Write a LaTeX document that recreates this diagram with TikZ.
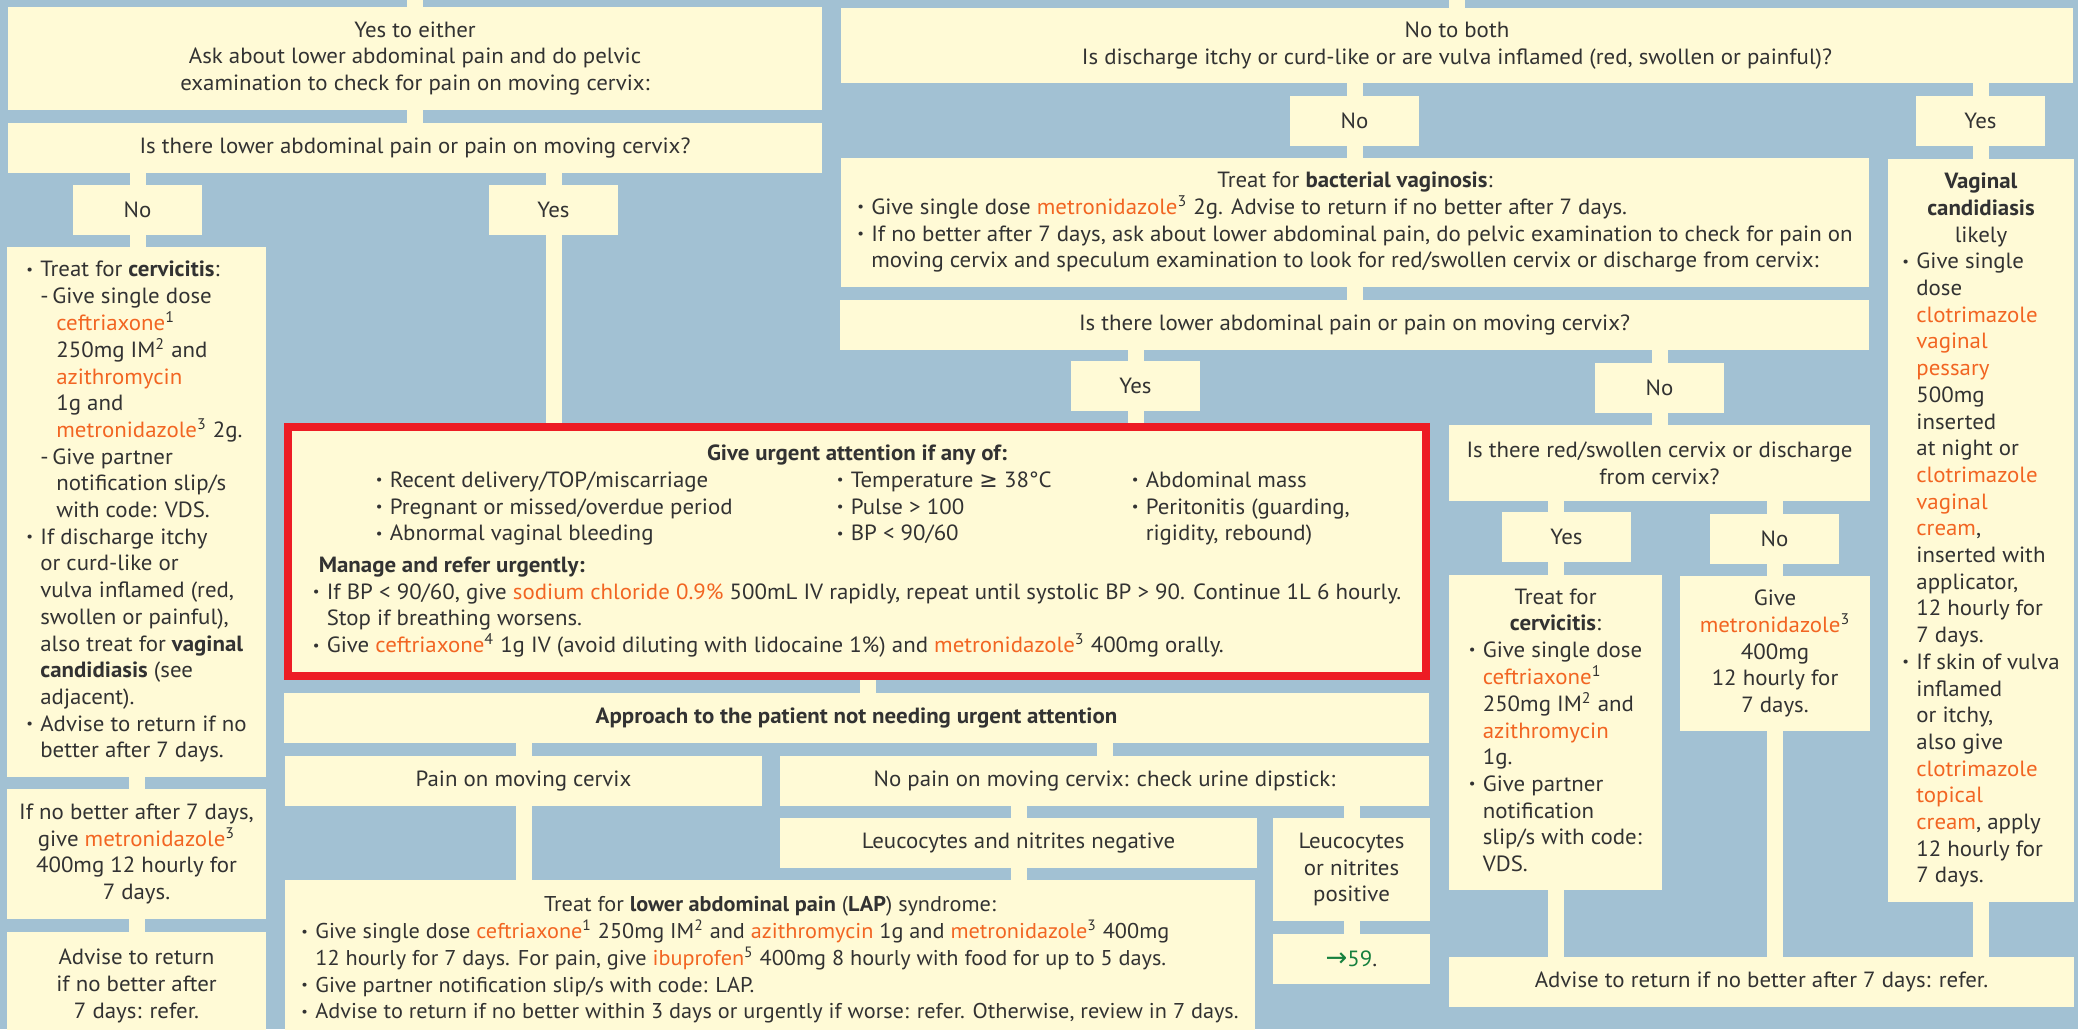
\documentclass[tikz,border=0pt]{standalone}
\usepackage{fontspec}
\usepackage{graphicx}
\setmainfont{PT Sans}[FakeStretch=1.04]
\newfontfamily\dvfont{DejaVu Sans}
\definecolor{bgblue}{RGB}{162,193,211}
\definecolor{cream}{RGB}{255,250,214}
\definecolor{ink}{RGB}{50,50,50}
\definecolor{drug}{RGB}{242,101,34}
\definecolor{alert}{RGB}{237,28,36}
\definecolor{grn}{RGB}{22,128,62}
\newcommand\orn[1]{\textcolor{drug}{#1}}
\newcommand\bul{\makebox[7pt][l]{\raisebox{0.12em}{\scalebox{0.65}{\textbullet}}}}
\newcommand\hind{\hspace*{7pt}}
\newcommand\hindd{\hspace*{15pt}}
\newcommand\su[1]{\textsuperscript{#1}}
\newcommand\fs{\fontsize{11pt}{13.35pt}\selectfont}
\newcommand\fss{\fontsize{10.7pt}{13.35pt}\selectfont}
\newcommand\mc[1]{\multicolumn{1}{@{}c@{}}{#1}}
\newcommand\bxnode[7][]{\node[bx,minimum width={(#4-#2)*0.5pt},minimum height={(#5-#3)*0.5pt},#1] (#6) at ({(#2+#4)/2},{(#3+#5)/2}) {#7};}
\begin{document}
\begin{tikzpicture}[x=0.5pt,y=-0.5pt,
  bx/.style={fill=cream,inner sep=0pt,outer sep=0pt,text=ink,font=\fs},
  stub/.style={draw=cream,line width=8pt},
  ctr/.style={align=center}]
\useasboundingbox (0,0) rectangle (2078,1029);
\fill[bgblue] (0,0) rectangle (2078,1029);

% left branch
\bxnode[ctr]{8}{7}{822}{110}{A}{Yes to either\\Ask about lower abdominal pain and do pelvic\\examination to check for pain on moving cervix:}
\bxnode[ctr]{8}{123}{822}{173}{B}{Is there lower abdominal pain or pain on moving cervix?}
\bxnode[ctr]{73}{185}{202}{235}{NoL}{No}
\bxnode[ctr]{489}{185}{618}{235}{YesL}{Yes}
\bxnode{7}{247}{266}{777}{J}{\begin{tabular}{@{}l@{}}
\bul Treat for \textbf{cervicitis}:\\
\hind\makebox[6pt][l]{-}Give single dose\\
\hindd\orn{ceftriaxone}\su{1}\\
\hindd 250mg IM\su{2} and\\
\hindd\orn{azithromycin}\\
\hindd 1g and\\
\hindd\orn{metronidazole}\su{3} 2g.\\
\hind\makebox[6pt][l]{-}Give partner\\
\hindd notification slip/s\\
\hindd with code: VDS.\\
\bul If discharge itchy\\
\hind or curd-like or\\
\hind vulva inflamed (red,\\
\hind swollen or painful),\\
\hind also treat for \textbf{vaginal}\\
\hind\textbf{candidiasis} (see\\
\hind adjacent).\\
\bul Advise to return if no\\
\hind better after 7 days.
\end{tabular}}
\bxnode[ctr]{7}{789}{266}{919}{K}{If no better after 7 days,\\give \orn{metronidazole}\su{3}\\400mg 12 hourly for\\7 days.}
\bxnode[ctr]{7}{932}{266}{1040}{L}{Advise to return\\if no better after\\7 days: refer.}

% right branch
\bxnode[ctr]{841}{8}{2073}{83}{C}{No to both\\Is discharge itchy or curd-like or are vulva inflamed (red, swollen or painful)?}
\bxnode[ctr]{1290}{96}{1419}{146}{NoR}{No}
\bxnode[ctr]{1916}{96}{2045}{146}{YesR}{Yes}
\bxnode{841}{158}{1869}{287}{D}{\begin{tabular}{@{}l@{}}
\mc{Treat for \textbf{bacterial vaginosis}:}\\
\bul Give single dose \orn{metronidazole}\su{3} 2g. Advise to return if no better after 7 days.\\
\bul If no better after 7 days, ask about lower abdominal pain, do pelvic examination to check for pain on\\
\hind moving cervix and speculum examination to look for red/swollen cervix or discharge from cervix:
\end{tabular}}
\bxnode{1888}{159}{2074}{902}{E}{\begin{tabular}{@{}l@{}}
\mc{\textbf{Vaginal}}\\
\mc{\textbf{candidiasis}}\\
\mc{likely}\\
\bul Give single\\
\hind dose\\
\hind\orn{clotrimazole}\\
\hind\orn{vaginal}\\
\hind\orn{pessary}\\
\hind 500mg\\
\hind inserted\\
\hind at night or\\
\hind\orn{clotrimazole}\\
\hind\orn{vaginal}\\
\hind\orn{cream},\\
\hind inserted with\\
\hind applicator,\\
\hind 12 hourly for\\
\hind 7 days.\\
\bul If skin of vulva\\
\hind inflamed\\
\hind or itchy,\\
\hind also give\\
\hind\orn{clotrimazole}\\
\hind\orn{topical}\\
\hind\orn{cream}, apply\\
\hind 12 hourly for\\
\hind 7 days.
\end{tabular}}
\bxnode[ctr]{840}{300}{1869}{350}{T}{Is there lower abdominal pain or pain on moving cervix?}
\bxnode[ctr]{1071}{361}{1200}{411}{YesT}{Yes}
\bxnode[ctr]{1595}{363}{1724}{413}{NoT}{No}
\bxnode[ctr]{1449}{425}{1870}{501}{F}{Is there red/swollen cervix or discharge\\from cervix?}
\bxnode[ctr]{1502}{512}{1631}{562}{YesF}{Yes}
\bxnode[ctr]{1710}{514}{1839}{564}{NoF}{No}
\bxnode{1449}{575}{1662}{890}{G}{\begin{tabular}{@{}l@{}}
\mc{Treat for}\\
\mc{\textbf{cervicitis}:}\\
\bul Give single dose\\
\hind\orn{ceftriaxone}\su{1}\\
\hind 250mg IM\su{2} and\\
\hind\orn{azithromycin}\\
\hind 1g.\\
\bul Give partner\\
\hind notification\\
\hind slip/s with code:\\
\hind VDS.
\end{tabular}}
\bxnode[ctr]{1680}{576}{1870}{731}{H}{Give\\\orn{metronidazole}\su{3}\\400mg\\12 hourly for\\7 days.}
\bxnode[ctr]{1449}{957}{2074}{1007}{I}{Advise to return if no better after 7 days: refer.}

% urgent box
\bxnode[draw=alert,line width=4pt,outer sep=2pt]{288}{427}{1426}{676}{Red}{\begin{tabular}{@{}l@{}}
\mc{\textbf{Give urgent attention if any of:}}\\
\hspace*{31.5pt}\makebox[230.5pt][l]{\bul Recent delivery/TOP/miscarriage}\makebox[147.5pt][l]{\bul Temperature {\dvfont ≥} 38°C}\bul Abdominal mass\\
\hspace*{31.5pt}\makebox[230.5pt][l]{\bul Pregnant or missed/overdue period}\makebox[147.5pt][l]{\bul Pulse > 100}\bul Peritonitis (guarding,\\
\hspace*{31.5pt}\makebox[230.5pt][l]{\bul Abnormal vaginal bleeding}\makebox[147.5pt][l]{\bul BP < 90/60}\hind rigidity, rebound)\\[2.5pt]
\hspace*{3pt}\textbf{Manage and refer urgently:}\\
\bul If BP < 90/60, give \orn{sodium chloride 0.9\%} 500mL IV rapidly, repeat until systolic BP > 90. Continue 1L 6 hourly.\\
\hind Stop if breathing worsens.\\
\bul Give \orn{ceftriaxone}\su{4} 1g IV (avoid diluting with lidocaine 1\%) and \orn{metronidazole}\su{3} 400mg orally.
\end{tabular}}

\bxnode[ctr]{284}{693}{1429}{743}{M}{\textbf{Approach to the patient not needing urgent attention}}
\bxnode[ctr]{285}{756}{762}{806}{N}{Pain on moving cervix}
\bxnode[ctr]{780}{756}{1429}{806}{O}{No pain on moving cervix: check urine dipstick:}
\bxnode[ctr]{780}{818}{1257}{868}{P}{Leucocytes and nitrites negative}
\bxnode[ctr]{1273}{818}{1430}{921}{Q}{Leucocytes\\or nitrites\\positive}
\bxnode[ctr]{1273}{934}{1430}{984}{R}{{\color{grn}{\dvfont\fontsize{13pt}{13pt}\selectfont →}59}.}
\bxnode[font=\fss]{285}{880}{1255}{1040}{S}{\begin{tabular}{@{}l@{}}
\mc{Treat for \textbf{lower abdominal pain} (\textbf{LAP}) syndrome:}\\
\bul Give single dose \orn{ceftriaxone}\su{1} 250mg IM\su{2} and \orn{azithromycin} 1g and \orn{metronidazole}\su{3} 400mg\\
\hind 12 hourly for 7 days. For pain, give \orn{ibuprofen}\su{5} 400mg 8 hourly with food for up to 5 days.\\
\bul Give partner notification slip/s with code: LAP.\\
\bul Advise to return if no better within 3 days or urgently if worse: refer. Otherwise, review in 7 days.
\end{tabular}}

% connectors
\coordinate (topA) at (415,-10);
\coordinate (topC) at (1457,-10);
\draw[stub] (topA) -- (A.north);
\draw[stub] (topC) -- (C.north);
\draw[stub] (A.south) -- (B.north);
\draw[stub] (B.south -| NoL.north) -- (NoL.north);
\draw[stub] (B.south -| YesL.north) -- (YesL.north);
\draw[stub] (NoL.south) -- (NoL.south |- J.north);
\draw[stub] (J.south) -- (K.north);
\draw[stub] (K.south) -- (L.north);
\draw[stub] (YesL.south) -- (YesL.south |- Red.north);
\draw[stub] (C.south -| NoR.north) -- (NoR.north);
\draw[stub] (C.south -| YesR.north) -- (YesR.north);
\draw[stub] (NoR.south) -- (NoR.south |- D.north);
\draw[stub] (YesR.south) -- (YesR.south |- E.north);
\draw[stub] (D.south) -- (D.south |- T.north);
\draw[stub] (T.south -| YesT.north) -- (YesT.north);
\draw[stub] (T.south -| NoT.north) -- (NoT.north);
\draw[stub] (YesT.south) -- (YesT.south |- Red.north);
\draw[stub] (NoT.south) -- (NoT.south |- F.north);
\draw[stub] (F.south -| G.north) -- (G.north |- YesF.north);
\draw[stub] (G.north |- YesF.south) -- (G.north);
\draw[stub] (F.south -| H.north) -- (H.north |- NoF.north);
\draw[stub] (H.north |- NoF.south) -- (H.north);
\draw[stub] (G.south) -- (G.south |- I.north);
\draw[stub] (H.south) -- (H.south |- I.north);
\draw[stub] (E.south) -- (E.south |- I.north);
\draw[stub] ([xshift=5.5pt]Red.south) -- ([xshift=5.5pt]Red.south |- M.north);
\draw[stub] (M.south -| N.north) -- (N.north);
\draw[stub] (M.south -| O.north) -- (O.north);
\draw[stub] (N.south) -- (N.south |- S.north);
\draw[stub] (O.south -| P.north) -- (P.north);
\draw[stub] (O.south -| Q.north) -- (Q.north);
\draw[stub] (P.south) -- (P.south |- S.north);
\draw[stub] (Q.south) -- (R.north);
\end{tikzpicture}
\end{document}
